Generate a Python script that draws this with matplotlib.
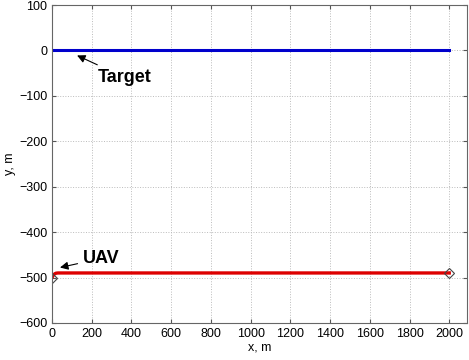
import numpy as np
import matplotlib
matplotlib.use("Agg")
import matplotlib.pyplot as plt

plt.rcParams['font.family'] = ['Liberation Sans', 'DejaVu Sans']

# Target trajectory
target_x = [0, 2000]
target_y = [0, 0]

# UAV trajectory
uav_x = [0, 5, 10, 15, 20, 30, 40, 60, 2000]
uav_y = [-500, -496, -493, -491.5, -490.5, -490, -490, -490, -490]

fig = plt.figure(figsize=(4.69, 3.6), dpi=100)
ax = fig.add_axes([0.111, 0.103, 0.885, 0.883])

ax.plot(target_x, target_y, color='#0000cc', linewidth=2.2)
ax.plot(uav_x, uav_y, color='#dd0000', linewidth=2.4)
ax.plot([uav_x[0], uav_x[-1]], [uav_y[0], uav_y[-1]], linestyle='none',
        marker='D', markersize=5, markerfacecolor='none', markeredgecolor='#444444',
        markeredgewidth=0.8)

ax.annotate('Target', xy=(126, -11), xytext=(228, -59),
            fontsize=13, fontweight='bold', va='center', ha='left',
            arrowprops=dict(arrowstyle='-|>', color='black', lw=0.8,
                            mutation_scale=12, shrinkA=2, shrinkB=0))
ax.annotate('UAV', xy=(40, -478), xytext=(156, -458),
            fontsize=13, fontweight='bold', va='center', ha='left',
            arrowprops=dict(arrowstyle='-|>', color='black', lw=0.8,
                            mutation_scale=12, shrinkA=2, shrinkB=0))

ax.set_xlim(0, 2090)
ax.set_ylim(-600, 100)
ax.set_xticks(np.arange(0, 2001, 200))
ax.set_yticks(np.arange(-600, 101, 100))
ax.tick_params(labelsize=9, direction='in', length=3, color='#555555',
               top=True, right=True)
ax.grid(True, linestyle=':', color='#bbbbbb', linewidth=0.7)
for s in ax.spines.values():
    s.set_color('#666666')
ax.set_xlabel('x, m', fontsize=9, labelpad=1)
ax.set_ylabel('y, m', fontsize=9, labelpad=2)

fig.savefig('out.png', dpi=100)
